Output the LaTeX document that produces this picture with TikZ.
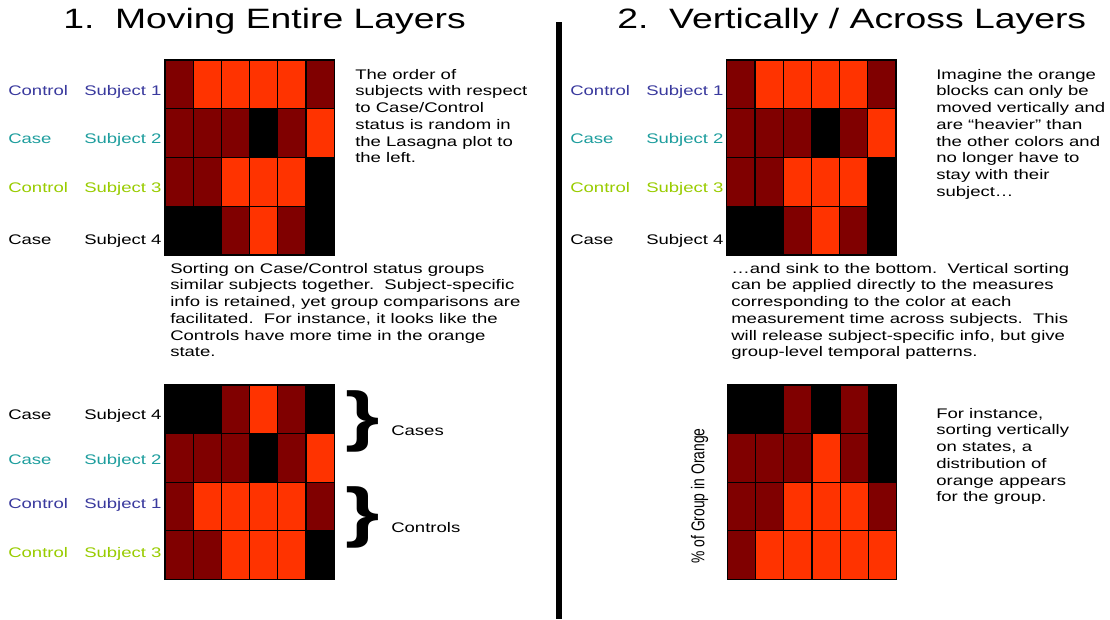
\documentclass[tikz,border=0pt]{standalone}
\usepackage{fontspec}
\setmainfont{Liberation Sans}
\definecolor{cD}{HTML}{800000}
\definecolor{cO}{HTML}{FF3300}
\definecolor{cK}{HTML}{000000}
\definecolor{cblue}{HTML}{3A3A9E}
\definecolor{cteal}{HTML}{1E9E9E}
\definecolor{clime}{HTML}{99CC00}
\newcommand\lasagna[5]{%
  \foreach \rw [count=\r from 0] in {#5} {
    \foreach \cc [count=\i from 0] in \rw {
      \path[cell, fill=c\cc] ({#1+\i*#3},{#2+\r*#4}) rectangle ++(#3,#4);
    }
  }%
}
\begin{document}
\begin{tikzpicture}[x=0.75pt, y=-1pt, xscale=1.333333,
  every node/.style={transform shape, inner sep=0pt},
  cell/.style={draw=black, line width=1.2pt},
  body/.style={font=\fontsize{13.9}{16.7}\selectfont, align=left, anchor=north west},
  lab/.style={font=\fontsize{13.9}{16.7}\selectfont, anchor=base west},
  ttl/.style={font=\fontsize{28}{33}\selectfont, anchor=base west},
  brace/.style={font=\fontsize{66}{70}\selectfont\bfseries}]
\useasboundingbox (0,0) rectangle (1110,619);
\fill[white] (0,0) rectangle (1110,619);

% titles
\node[ttl] (title1) at (63,28) {1.\ \ Moving Entire Layers};
\node[ttl] (title2) at (617,28) {2.\ \ Vertically / Across Layers};

% divider
\coordinate (divtop) at (558.5,22);
\coordinate (divbot) at (558.5,619);
\draw[line width=6pt] (divtop) -- (divbot);

% ---------- left top lasagna
\lasagna{165}{60}{28.2}{48.75}{{D,O,O,O,O,D},{D,D,D,K,D,O},{D,D,O,O,O,K},{K,K,D,O,D,K}}
\node[lab, text=cblue] (l1a) at (8,95) {Control};
\node[lab, text=cblue] (l1b) at (84,95) {Subject 1};
\node[lab, text=cteal] (l2a) at (8,143.3) {Case};
\node[lab, text=cteal] (l2b) at (84,143.3) {Subject 2};
\node[lab, text=clime] (l3a) at (8,192) {Control};
\node[lab, text=clime] (l3b) at (84,192) {Subject 3};
\node[lab] (l4a) at (8,244) {Case};
\node[lab] (l4b) at (84,244) {Subject 4};

\node[body] (txtA) at (355,67) {\rule{0pt}{12pt}The order of\\subjects with respect\\to Case/Control\\status is random in\\the Lasagna plot to\\the left.};

\node[body] (txtB) at (170,261) {\rule{0pt}{12pt}Sorting on Case/Control status groups\\similar subjects together.\ \ Subject-specific\\info is retained, yet group comparisons are\\facilitated.\ \ For instance, it looks like the\\Controls have more time in the orange\\state.};

% ---------- left bottom lasagna
\lasagna{165}{385}{28.2}{48.6}{{K,K,D,O,D,K},{D,D,D,K,D,O},{D,O,O,O,O,D},{D,D,O,O,O,K}}
\node[lab] (b1a) at (8,419.3) {Case};
\node[lab] (b1b) at (84,419.3) {Subject 4};
\node[lab, text=cteal] (b2a) at (8,464.3) {Case};
\node[lab, text=cteal] (b2b) at (84,464.3) {Subject 2};
\node[lab, text=cblue] (b3a) at (8,508.3) {Control};
\node[lab, text=cblue] (b3b) at (84,508.3) {Subject 1};
\node[lab, text=clime] (b4a) at (8,557.3) {Control};
\node[lab, text=clime] (b4b) at (84,557.3) {Subject 3};

\node[brace] (br1) at (362.5,421.7) {\}};
\node[brace] (br2) at (362.5,517.2) {\}};
\node[lab] (cases) at (391,435) {Cases};
\node[lab] (controls) at (391,532) {Controls};

% ---------- right top lasagna
\lasagna{726.7}{60}{28.2}{48.75}{{D,O,O,O,O,D},{D,D,D,K,D,O},{D,D,O,O,O,K},{K,K,D,O,D,K}}
\node[lab, text=cblue] (r1a) at (570,95) {Control};
\node[lab, text=cblue] (r1b) at (646,95) {Subject 1};
\node[lab, text=cteal] (r2a) at (570,143.3) {Case};
\node[lab, text=cteal] (r2b) at (646,143.3) {Subject 2};
\node[lab, text=clime] (r3a) at (570,192) {Control};
\node[lab, text=clime] (r3b) at (646,192) {Subject 3};
\node[lab] (r4a) at (570,244) {Case};
\node[lab] (r4b) at (646,244) {Subject 4};

\node[body] (txtC) at (936,67) {\rule{0pt}{12pt}Imagine the orange\\blocks can only be\\moved vertically and\\are “heavier” than\\the other colors and\\no longer have to\\stay with their\\subject…};

\node[body] (txtD) at (731,261) {\rule{0pt}{12pt}…and sink to the bottom.\ \ Vertical sorting\\can be applied directly to the measures\\corresponding to the color at each\\measurement time across subjects.\ \ This\\will release subject-specific info, but give\\group-level temporal patterns.};

% ---------- right bottom lasagna
\lasagna{727.3}{385}{28.23}{48.6}{{K,K,D,K,D,K},{D,D,D,O,D,K},{D,D,O,O,O,D},{D,O,O,O,O,O}}
\node[font=\fontsize{13.9}{16.7}\selectfont, rotate=90] (ylab) at (699.5,496) {\% of Group in Orange};

\node[body] (txtE) at (936,406) {\rule{0pt}{12pt}For instance,\\sorting vertically\\on states, a\\distribution of\\orange appears\\for the group.};
\end{tikzpicture}
\end{document}
